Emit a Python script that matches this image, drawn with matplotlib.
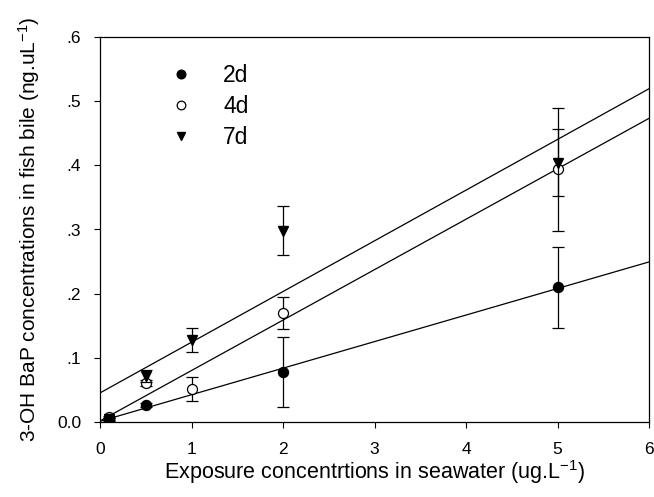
import numpy as np
import matplotlib
matplotlib.use("Agg")
import matplotlib.pyplot as plt
from matplotlib.ticker import FixedLocator, FixedFormatter

plt.rcParams['font.family'] = ['Liberation Sans', 'DejaVu Sans']
plt.rcParams['mathtext.fontset'] = 'custom'
plt.rcParams['mathtext.rm'] = 'Liberation Sans'
plt.rcParams['mathtext.default'] = 'regular'

# data
x_2d = [0.1, 0.5, 2, 5]
y_2d = [0.005, 0.026, 0.078, 0.210]
e_2d = [0.002, 0.003, 0.055, 0.063]

x_4d = [0.1, 0.5, 1, 2, 5]
y_4d = [0.008, 0.061, 0.051, 0.170, 0.394]
e_4d = [0.002, 0.005, 0.019, 0.025, 0.096]

x_7d = [0.1, 0.5, 1, 2, 5]
y_7d = [0.004, 0.072, 0.128, 0.298, 0.404]
e_7d = [0.002, 0.009, 0.019, 0.038, 0.052]

xticks = [0, 1, 2, 3, 4, 5, 6]
yticks = [0.0, 0.1, 0.2, 0.3, 0.4, 0.5, 0.6]
ytick_labels = ['0.0', '.1', '.2', '.3', '.4', '.5', '.6']

fig = plt.figure(figsize=(6.54, 4.97), dpi=100)
ax = fig.add_axes([100/654, 1-422/497, 549/654, 385/497])

xfit = np.array([0, 6])
for xs, ys in [(x_2d, y_2d), (x_4d, y_4d), (x_7d, y_7d)]:
    k, b = np.polyfit(xs, ys, 1)
    ax.plot(xfit, k*xfit + b, color='black', lw=0.9, zorder=1)

ms = 7.2
cap = 4.5
h4 = ax.errorbar(x_4d, y_4d, yerr=e_4d, fmt='o', mfc='white', mec='black', mew=0.9,
                 ms=ms, ecolor='black', elinewidth=0.9, capsize=cap, capthick=0.9, zorder=3)
h7 = ax.errorbar(x_7d, y_7d, yerr=e_7d, fmt='v', mfc='black', mec='black',
                 ms=ms, ecolor='black', elinewidth=0.9, capsize=cap, capthick=0.9, zorder=4)
h2 = ax.errorbar(x_2d, y_2d, yerr=e_2d, fmt='o', mfc='black', mec='black',
                 ms=ms, ecolor='black', elinewidth=0.9, capsize=cap, capthick=0.9, zorder=5)

# legend markers
l2, = ax.plot([], [], 'o', color='black', ms=6.2)
l4, = ax.plot([], [], 'o', mfc='white', mec='black', mew=0.9, ms=6.2)
l7, = ax.plot([], [], 'v', color='black', ms=6.2)
leg = ax.legend([l2, l4, l7], ['2d', '4d', '7d'], loc='upper left',
                bbox_to_anchor=(0.127, 0.93), frameon=False, fontsize=16.5,
                handlelength=1.0, handletextpad=1.33, labelspacing=0.35,
                borderaxespad=0, borderpad=0)

ax.set_xlim(0, 6)
ax.set_ylim(0, 0.6)
ax.xaxis.set_major_locator(FixedLocator(xticks))
ax.yaxis.set_major_locator(FixedLocator(yticks))
ax.yaxis.set_major_formatter(FixedFormatter(ytick_labels))
ax.tick_params(axis='both', direction='out', length=4.5, width=0.8, labelsize=12.5, color='black')
ax.tick_params(axis='x', pad=10)
ax.tick_params(axis='y', pad=9)
for s in ax.spines.values():
    s.set_linewidth(0.9)

ax.set_xlabel('Exposure concentrtions in seawater (ug.L$^{-1}$)', fontsize=15.5, labelpad=1)
ax.set_ylabel('3-OH BaP concentrations in fish bile (ng.uL$^{-1}$)', fontsize=15, labelpad=11)

fig.savefig('out.png', dpi=100)
